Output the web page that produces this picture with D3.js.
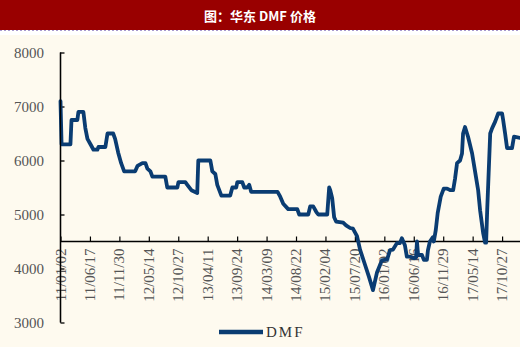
<!DOCTYPE html>
<html>
<head>
<meta charset="utf-8">
<script src="https://cdn.jsdelivr.net/npm/d3@7"></script>
<style>
  html, body { margin: 0; padding: 0; background: #fefaef; }
  svg { display: block; }
</style>
</head>
<body>
<svg id="chart" width="520" height="347"></svg>
<script>
// East China DMF price (yuan/ton)
const titleText = "图：华东 DMF 价格";
const seriesName = "DMF";

const dates = [
  "2011-01-02","2011-01-08","2011-02-27","2011-03-05","2011-04-07","2011-04-13","2011-05-11","2011-05-22",
  "2011-06-03","2011-06-20","2011-07-07","2011-07-29","2011-08-04","2011-09-12","2011-09-24","2011-10-26",
  "2011-11-06","2011-11-23","2011-12-10","2011-12-27","2012-02-27","2012-03-11","2012-04-08","2012-04-25",
  "2012-05-06","2012-05-23","2012-06-03","2012-08-15","2012-08-26","2012-10-22","2012-10-28","2012-12-06",
  "2012-12-17","2013-01-09","2013-02-11","2013-02-17","2013-04-26","2013-05-07","2013-05-24","2013-06-04",
  "2013-06-27","2013-08-16","2013-08-28","2013-09-19","2013-09-25","2013-10-23","2013-11-03","2013-11-20",
  "2013-12-01","2013-12-12","2014-05-10","2014-05-25","2014-06-11","2014-07-09","2014-08-29","2014-09-09",
  "2014-10-30","2014-11-10","2014-11-27","2014-12-14","2014-12-25","2015-02-14","2015-02-25","2015-03-03",
  "2015-03-14","2015-03-25","2015-04-05","2015-05-15","2015-05-31","2015-06-23","2015-07-09","2015-08-01",
  "2015-08-18","2015-09-15","2015-10-07","2015-10-30","2015-11-21","2015-12-19","2016-01-18","2016-02-03",
  "2016-02-20","2016-03-13","2016-03-30","2016-04-10","2016-04-27","2016-05-08","2016-05-25","2016-06-18",
  "2016-06-29","2016-07-04","2016-07-10","2016-08-01","2016-08-12","2016-08-29","2016-09-04","2016-09-15",
  "2016-10-02","2016-10-07","2016-10-18","2016-10-29","2016-11-15","2016-12-02","2016-12-21","2017-01-07",
  "2017-01-24","2017-02-04","2017-02-15","2017-03-04","2017-03-15","2017-03-21","2017-04-01","2017-04-18",
  "2017-05-11","2017-05-28","2017-06-14","2017-06-25","2017-07-12","2017-07-23","2017-07-29","2017-08-04",
  "2017-08-10","2017-08-21","2017-09-01","2017-09-18","2017-10-05","2017-10-27","2017-11-02","2017-11-13",
  "2017-11-24","2017-12-22","2018-01-02","2018-02-05"
];

const prices = [
  7100,6300,6300,6750,6750,6900,6900,6600,
  6400,6300,6200,6200,6250,6250,6500,6500,
  6400,6150,5950,5800,5800,5900,5950,5950,
  5850,5800,5700,5700,5500,5500,5600,5600,
  5550,5450,5400,6000,6000,5800,5750,5550,
  5350,5350,5500,5500,5600,5600,5500,5500,
  5550,5420,5420,5330,5200,5100,5100,5000,
  5000,5150,5150,5050,5000,5000,5500,5450,
  5300,4950,4870,4850,4800,4750,4740,4600,
  4350,4070,3850,3600,3920,4150,4170,4340,
  4350,4470,4470,4560,4430,4220,4220,4190,
  4200,4500,4250,4250,4160,4160,4340,4500,
  4580,4500,4710,5030,5330,5480,5480,5450,
  5450,5670,5950,6000,6130,6500,6620,6440,
  6130,5790,5450,5080,4660,4480,4480,5080,
  5580,6500,6600,6720,6870,6870,6750,6500,
  6230,6230,6440,6420
];

const xTickLabels = [
  "11/01/02","11/06/17","11/11/30","12/05/14","12/10/27","13/04/11","13/09/24","14/03/09",
  "14/08/22","15/02/04","15/07/20","16/01/02","16/06/16","16/11/29","17/05/14","17/10/27"
];
const yTicks = [3000, 4000, 5000, 6000, 7000, 8000];

const svg = d3.select("#chart");
const W = 520, H = 347;
const SERIF = '"Liberation Serif"';

// header band
svg.append("rect").attr("x", 0).attr("y", 0).attr("width", W).attr("height", H).attr("fill", "#fefaef");
svg.append("rect").attr("x", 0).attr("y", 30).attr("width", W).attr("height", 5).attr("fill", "#ffffff");
svg.append("rect").attr("x", 0).attr("y", 0).attr("width", W).attr("height", 30).attr("fill", "#990000");
svg.append("line").attr("x1", 0).attr("x2", W).attr("y1", 30.5).attr("y2", 30.5)
  .attr("stroke", "#a89ad0").attr("stroke-width", 1).attr("stroke-dasharray", "2,2");
svg.append("text").attr("x", 260).attr("y", 15).attr("text-anchor", "middle")
  .attr("dominant-baseline", "central")
  .style("font-family", '"Noto Sans CJK SC"').style("font-weight", "bold")
  .style("font-size", "13px").attr("fill", "#ffffff").text(titleText);

const parse = d3.timeParse("%Y-%m-%d");
const parseTick = d3.timeParse("%y/%m/%d");
const data = dates.map((d, i) => ({ date: parse(d), value: prices[i] }));

const x = d3.scaleTime()
  .domain([parse("2011-01-02"), parse("2018-02-05")])
  .range([60.5, 520]);
const y = d3.scaleLinear().domain([3000, 8000]).range([322.5, 52.5]);

// y axis
const yAxis = svg.append("g").attr("transform", "translate(60.5,0)")
  .call(d3.axisRight(y).tickValues(yTicks).tickSize(4).tickFormat(""));
yAxis.select(".domain").attr("stroke", "#000").attr("stroke-width", 1.3).attr("d", `M0,${y(3000)}V${y(8000)}`);
yAxis.selectAll(".tick line").attr("stroke", "#000").attr("stroke-width", 1.3);

svg.append("g").selectAll("text").data(yTicks).join("text")
  .attr("x", 44).attr("y", d => y(d)).attr("text-anchor", "end")
  .attr("dominant-baseline", "central")
  .style("font-family", SERIF).style("font-size", "15px").attr("fill", "#555")
  .text(d => d);

// x axis crossing at 4500
const xAxisY = y(4500);
const tickDates = xTickLabels.map(s => parseTick(s));
const xAxis = svg.append("g").attr("transform", `translate(0,${xAxisY})`)
  .call(d3.axisTop(x).tickValues(tickDates).tickSize(5).tickFormat(""));
xAxis.select(".domain").attr("stroke", "#000").attr("stroke-width", 1.6).attr("d", `M60.5,0H520`);
xAxis.selectAll(".tick line").attr("stroke", "#000").attr("stroke-width", 1.2);

svg.append("g").selectAll("text").data(xTickLabels).join("text")
  .attr("transform", d => `translate(${x(parseTick(d))},${xAxisY + 7}) rotate(-90)`)
  .attr("text-anchor", "end").attr("dominant-baseline", "central")
  .style("font-family", SERIF).style("font-size", "15px").attr("fill", "#555")
  .text(d => d);

// price line
const line = d3.line().x(d => x(d.date)).y(d => y(d.value));
svg.append("path").datum(data).attr("d", line)
  .attr("fill", "none").attr("stroke", "#0a3c72").attr("stroke-width", 3.8)
  .attr("stroke-linejoin", "round").attr("stroke-linecap", "round");

// redraw y axis line over the series start
svg.append("line").attr("x1", 60.5).attr("x2", 60.5).attr("y1", y(3000)).attr("y2", y(8000))
  .attr("stroke", "#000").attr("stroke-width", 1.3);

// legend
svg.append("line").attr("x1", 219).attr("x2", 263).attr("y1", 332).attr("y2", 332)
  .attr("stroke", "#0a3c72").attr("stroke-width", 4.5);
svg.append("text").attr("x", 266).attr("y", 332).attr("dominant-baseline", "central")
  .style("font-family", SERIF).style("font-size", "15px").style("letter-spacing", "2px").attr("fill", "#333")
  .text(seriesName);
</script>
</body>
</html>
